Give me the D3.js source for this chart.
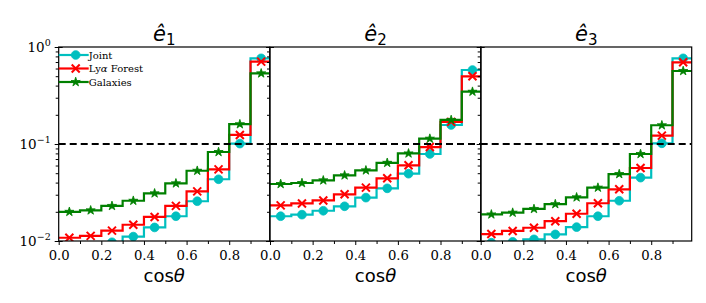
<!DOCTYPE html>
<html>
<head>
<meta charset="utf-8">
<script src="https://cdn.jsdelivr.net/npm/d3@7"></script>
<style>
  body { margin: 0; background: #fff; }
  svg text { fill: #000; }
</style>
</head>
<body>
<svg id="chart" width="706" height="303"></svg>
<script>
// bin lower edges (bins of width 0.1), markers sit at the bin centres
const binEdges = [0.0, 0.1, 0.2, 0.3, 0.4, 0.5, 0.6, 0.7, 0.8, 0.9];
const xTicks = [0.0, 0.2, 0.4, 0.6, 0.8];
const panelTitles = ["1", "2", "3"];

// fractions per bin
const joint1 = [0.0083, 0.0088, 0.0097, 0.0111, 0.0138, 0.018, 0.0257, 0.0433, 0.101, 0.764];
const lya1   = [0.0108, 0.0113, 0.0128, 0.0147, 0.0177, 0.0230, 0.0325, 0.0548, 0.124, 0.706];
const gal1   = [0.0200, 0.0207, 0.0230, 0.0260, 0.0310, 0.0393, 0.053, 0.0827, 0.160, 0.535];

const joint2 = [0.0180, 0.0187, 0.0205, 0.0228, 0.0280, 0.0349, 0.0494, 0.0789, 0.157, 0.579];
const lya2   = [0.0233, 0.0244, 0.0262, 0.0303, 0.0355, 0.0443, 0.0603, 0.093, 0.169, 0.499];
const gal2   = [0.0387, 0.0396, 0.0422, 0.0475, 0.0535, 0.064, 0.080, 0.1135, 0.177, 0.346];

const joint3 = [0.0096, 0.0098, 0.0104, 0.0117, 0.0139, 0.018, 0.026, 0.045, 0.1017, 0.764];
const lya3   = [0.0118, 0.0127, 0.0137, 0.0160, 0.0191, 0.0245, 0.0341, 0.0566, 0.122, 0.695];
const gal3   = [0.0188, 0.0196, 0.0214, 0.0240, 0.0282, 0.0355, 0.049, 0.0789, 0.156, 0.566];

const threshold = 0.1;

const seriesInfo = [
  { name: "Joint", color: "#00bfbf", marker: "circle" },
  { name: "Lyα Forest", color: "#ff0000", marker: "cross" },
  { name: "Galaxies", color: "#008000", marker: "star" }
];
const panels = [
  [joint1, lya1, gal1],
  [joint2, lya2, gal2],
  [joint3, lya3, gal3]
];

const svg = d3.select("#chart");
const panelLeft = [58.7, 270, 480.7];
const panelW = 211, plotTop = 47, plotBottom = 241;
const plotH = plotBottom - plotTop;

const x = d3.scaleLinear().domain([0, 0.99]).range([0, panelW]);
const y = d3.scaleLog().domain([0.01, 1]).range([plotH, 0]);

const serif = "DejaVu Serif";
const sans = "DejaVu Sans";

function markerPath(type) {
  if (type === "circle") return d3.symbol(d3.symbolCircle, 60)();
  if (type === "cross") return "M-4,-4L4,4M-4,4L4,-4";
  return d3.symbol(d3.symbolStar, 26)();
}

function drawMarker(g, type, color, px, py) {
  const m = g.append("path")
    .attr("d", markerPath(type))
    .attr("transform", `translate(${px},${py})`);
  if (type === "cross") m.attr("fill", "none").attr("stroke", color).attr("stroke-width", 2);
  else m.attr("fill", color).attr("stroke", color).attr("stroke-width", 0.8);
}

panels.forEach((series, pi) => {
  const g = svg.append("g").attr("transform", `translate(${panelLeft[pi]},${plotTop})`);
  const clipId = "clip" + pi;
  g.append("clipPath").attr("id", clipId)
    .append("rect").attr("x", 0).attr("y", 0).attr("width", panelW).attr("height", plotH);
  const plot = g.append("g").attr("clip-path", `url(#${clipId})`);

  series.forEach((vals, si) => {
    const info = seriesInfo[si];
    // histogram-style step outline
    const pts = [];
    vals.forEach((v, i) => {
      pts.push([binEdges[i], v]);
      pts.push([binEdges[i] + 0.1, v]);
    });
    plot.append("path")
      .attr("d", d3.line().x(d => x(d[0])).y(d => y(d[1]))(pts))
      .attr("fill", "none")
      .attr("stroke", info.color)
      .attr("stroke-width", 2.2);
    vals.forEach((v, i) => drawMarker(plot, info.marker, info.color, x(binEdges[i] + 0.05), y(v)));
  });

  plot.append("line")
    .attr("x1", 0).attr("x2", panelW)
    .attr("y1", y(threshold)).attr("y2", y(threshold))
    .attr("stroke", "#000").attr("stroke-width", 2)
    .attr("stroke-dasharray", "7,4");

  // frame
  g.append("rect").attr("width", panelW).attr("height", plotH)
    .attr("fill", "none").attr("stroke", "#000").attr("stroke-width", 1.2);

  // x axis
  const xAxis = d3.axisBottom(x).tickValues(xTicks).tickFormat(d3.format(".1f"))
    .tickSize(4).tickPadding(6);
  const xa = g.append("g").attr("transform", `translate(0,${plotH})`).call(xAxis)
    .attr("font-family", serif).attr("font-size", 13.2);
  xa.select(".domain").remove();
  const xMinor = d3.axisBottom(x).tickValues(d3.range(0.1, 0.99, 0.2)).tickSize(3).tickFormat("");
  g.append("g").attr("transform", `translate(0,${plotH})`).call(xMinor)
    .select(".domain").remove();

  // y axis: major ticks cross the spine, minor ticks point out
  const yMajor = d3.axisLeft(y).tickValues([0.01, 0.1, 1]).tickSize(4).tickFormat("");
  const ya = g.append("g").call(yMajor);
  ya.select(".domain").remove();
  ya.selectAll(".tick line").attr("x2", 4).attr("x1", -4);
  const minors = [];
  [0.01, 0.1].forEach(d => { for (let k = 2; k <= 9; k++) minors.push(d * k); });
  const yMinor = d3.axisLeft(y).tickValues(minors).tickSize(3).tickFormat("");
  g.append("g").call(yMinor).select(".domain").remove();

  if (pi === 0) {
    [[1, "0"], [0.1, "−1"], [0.01, "−2"]].forEach(([v, exp]) => {
      const t = g.append("text")
        .attr("font-family", serif)
        .attr("x", -8).attr("y", y(v) + 5)
        .attr("text-anchor", "end")
        .attr("font-size", 13.5);
      t.append("tspan").text("10");
      t.append("tspan").attr("dy", -6).attr("font-size", 9.5).text(exp);
    });
  }

  // panel title  ê_n
  const title = g.append("text")
    .attr("font-family", sans)
    .attr("x", panelW / 2).attr("y", -6)
    .attr("text-anchor", "middle")
    .attr("font-size", 21);
  title.append("tspan").attr("font-style", "italic").text("ê");
  title.append("tspan").attr("dy", 4).attr("font-size", 15).text(panelTitles[pi]);

  // x label
  const xl = g.append("text")
    .attr("font-family", sans)
    .attr("x", panelW / 2).attr("y", 281.5 - plotTop)
    .attr("text-anchor", "middle")
    .attr("font-size", 18);
  xl.append("tspan").text("cos");
  xl.append("tspan").attr("font-style", "italic").text("θ");

  // legend in the first panel
  if (pi === 0) {
    const lg = g.append("g");
    seriesInfo.forEach((info, si) => {
      const ly = 8 + si * 13.5;
      lg.append("line").attr("x1", 0).attr("x2", 30).attr("y1", ly).attr("y2", ly)
        .attr("stroke", info.color).attr("stroke-width", 2.2);
      drawMarker(lg, info.marker, info.color, 17, ly);
      const t = lg.append("text").attr("font-family", serif).attr("x", 30).attr("y", ly + 3.8)
        .attr("font-size", 10);
      if (info.name === "Lyα Forest") {
        t.append("tspan").text("Ly");
        t.append("tspan").attr("font-style", "italic").text("α");
        t.append("tspan").text(" Forest");
      } else {
        t.text(info.name);
      }
    });
  }
});
</script>
</body>
</html>
